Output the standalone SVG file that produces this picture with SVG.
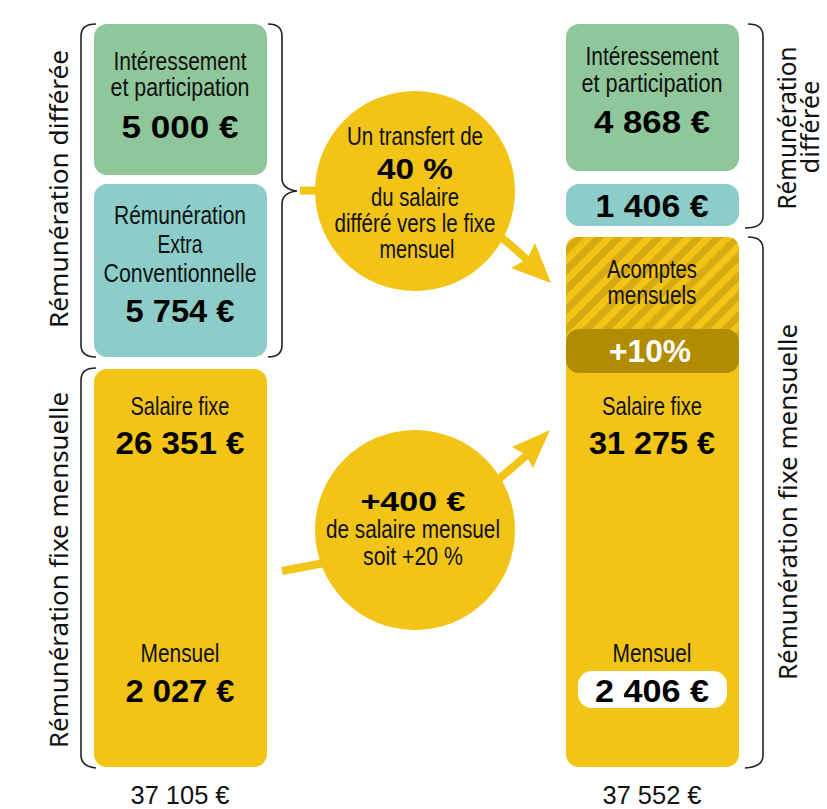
<svg xmlns="http://www.w3.org/2000/svg" width="827" height="809" viewBox="0 0 827 809">
  <defs>
    <style>
      .reg { font-family: "Liberation Sans", Arial, sans-serif; font-size: 25px; fill: #111; text-anchor: middle; }
      .bold { font-family: "Liberation Sans", Arial, sans-serif; font-size: 31px; font-weight: 700; fill: #000; text-anchor: middle; }
      .side { font-family: "Noto Sans", "Liberation Sans", sans-serif; font-size: 26px; fill: #111; text-anchor: middle; }
      .total { font-family: "Liberation Sans", Arial, sans-serif; font-size: 26px; fill: #111; text-anchor: middle; }
      .brace { fill: none; stroke: #222; stroke-width: 1.6; }
      .yellow { fill: #F1C417; }
      .green { fill: #8FC79A; }
      .teal { fill: #8CCDC9; }
      .flow { fill: none; stroke: #F1C417; stroke-width: 8; }
    </style>
    <pattern id="hatch" patternUnits="userSpaceOnUse" width="14" height="14" patternTransform="rotate(45)">
      <rect width="14" height="14" fill="#F1C417"/>
      <rect width="7" height="14" fill="#D6AA10"/>
    </pattern>
  </defs>

  <!-- brackets grouping the amounts -->
  <g id="brackets">
    <path class="brace" d="M96,24 C86,24 81,28 81,36 L81,345 C81,353 86,357 96,357"/>
    <path class="brace" d="M96,368 C86,368 81,372 81,380 L81,755 C81,763 86,767 96,768"/>
    <path class="brace" d="M268,24 C278,24 282,28 282,36 L282,178 C282,186 288,190 297,191 C288,192 282,196 282,204 L282,345 C282,353 278,357 268,357"/>
    <path class="brace" d="M748,24 C758,24 763,28 763,36 L763,216 C763,224 758,228 745,228"/>
    <path class="brace" d="M748,237 C758,237 763,241 763,249 L763,755 C763,763 758,767 745,768"/>
  </g>

  <!-- side labels -->
  <g id="side-labels">
    <text class="side" transform="translate(68,189) rotate(-90)" textLength="278" lengthAdjust="spacingAndGlyphs">Rémunération différée</text>
    <text class="side" transform="translate(68,570) rotate(-90)" textLength="356" lengthAdjust="spacingAndGlyphs">Rémunération fixe mensuelle</text>
    <text class="side" transform="translate(796,128) rotate(-90)" textLength="163" lengthAdjust="spacingAndGlyphs">Rémunération</text>
    <text class="side" transform="translate(819,127) rotate(-90)" textLength="93" lengthAdjust="spacingAndGlyphs">différée</text>
    <text class="side" transform="translate(797,502) rotate(-90)" textLength="356" lengthAdjust="spacingAndGlyphs">Rémunération fixe mensuelle</text>
  </g>

  <!-- connectors -->
  <g id="connectors">
    <path class="flow" d="M300,190.5 L330,190.5"/>
    <path class="flow" d="M470,215 Q505,238 528,261"/>
    <polygon class="yellow" points="551,283 511,268 527,259 535,243"/>
    <path class="flow" d="M282,571 L335,561"/>
    <path class="flow" d="M480,495 L527,455"/>
    <polygon class="yellow" points="550,430 533,468 526,455 512,447"/>
  </g>

  <!-- left column -->
  <g id="left-interessement">
    <rect class="green" x="94" y="24" width="173" height="151" rx="13"/>
    <text class="reg" x="180" y="70" textLength="133" lengthAdjust="spacingAndGlyphs">Intéressement</text>
    <text class="reg" x="180" y="96" textLength="139" lengthAdjust="spacingAndGlyphs">et participation</text>
    <text class="bold" x="180" y="138" textLength="117" lengthAdjust="spacingAndGlyphs">5 000 €</text>
  </g>
  <g id="left-extra">
    <rect class="teal" x="94" y="184" width="173" height="173" rx="13"/>
    <text class="reg" x="180" y="224" textLength="132" lengthAdjust="spacingAndGlyphs">Rémunération</text>
    <text class="reg" x="180" y="253" textLength="45" lengthAdjust="spacingAndGlyphs">Extra</text>
    <text class="reg" x="180" y="282" textLength="153" lengthAdjust="spacingAndGlyphs">Conventionnelle</text>
    <text class="bold" x="180" y="322" textLength="109" lengthAdjust="spacingAndGlyphs">5 754 €</text>
  </g>
  <g id="left-fixe">
    <rect class="yellow" x="94" y="369" width="173" height="398" rx="13"/>
    <text class="reg" x="180" y="415" textLength="99" lengthAdjust="spacingAndGlyphs">Salaire fixe</text>
    <text class="bold" x="180" y="454" textLength="129" lengthAdjust="spacingAndGlyphs">26 351 €</text>
    <text class="reg" x="180" y="662" textLength="79" lengthAdjust="spacingAndGlyphs">Mensuel</text>
    <text class="bold" x="180" y="702" textLength="109" lengthAdjust="spacingAndGlyphs">2 027 €</text>
  </g>
  <g id="left-total">
    <text class="total" x="180" y="804" textLength="99" lengthAdjust="spacingAndGlyphs">37 105 €</text>
  </g>

  <!-- transfer bubbles -->
  <g id="bubble-transfert">
    <circle class="yellow" cx="415" cy="191" r="100"/>
    <text class="reg" x="415" y="145" textLength="136" lengthAdjust="spacingAndGlyphs">Un transfert de</text>
    <text class="bold" x="415" y="179" style="font-size:29px" textLength="76" lengthAdjust="spacingAndGlyphs">40 %</text>
    <text class="reg" x="415" y="206" textLength="88" lengthAdjust="spacingAndGlyphs">du salaire</text>
    <text class="reg" x="415" y="232" textLength="161" lengthAdjust="spacingAndGlyphs">différé vers le fixe</text>
    <text class="reg" x="417" y="258" textLength="75" lengthAdjust="spacingAndGlyphs">mensuel</text>
  </g>
  <g id="bubble-hausse">
    <circle class="yellow" cx="415" cy="530" r="100"/>
    <text class="bold" x="413" y="511" style="font-size:28px" textLength="105" lengthAdjust="spacingAndGlyphs">+400 €</text>
    <text class="reg" x="413" y="538" textLength="174" lengthAdjust="spacingAndGlyphs">de salaire mensuel</text>
    <text class="reg" x="413" y="565" textLength="100" lengthAdjust="spacingAndGlyphs">soit +20 %</text>
  </g>

  <!-- right column -->
  <g id="right-interessement">
    <rect class="green" x="566" y="24" width="173" height="147" rx="13"/>
    <text class="reg" x="652" y="65" textLength="133" lengthAdjust="spacingAndGlyphs">Intéressement</text>
    <text class="reg" x="652" y="92" textLength="141" lengthAdjust="spacingAndGlyphs">et participation</text>
    <text class="bold" x="652" y="133" textLength="116" lengthAdjust="spacingAndGlyphs">4 868 €</text>
  </g>
  <g id="right-extra">
    <rect class="teal" x="566" y="184" width="173" height="42" rx="13"/>
    <text class="bold" x="652" y="217" textLength="113" lengthAdjust="spacingAndGlyphs">1 406 €</text>
  </g>
  <g id="right-fixe">
    <rect class="yellow" x="566" y="237" width="173" height="530" rx="13"/>
    <path d="M566,355 L566,250 Q566,237 579,237 L726,237 Q739,237 739,250 L739,355 Z" fill="url(#hatch)"/>
    <text class="reg" x="652" y="278" textLength="90" lengthAdjust="spacingAndGlyphs">Acomptes</text>
    <text class="reg" x="652" y="304" textLength="89" lengthAdjust="spacingAndGlyphs">mensuels</text>
    <rect x="566" y="329" width="173" height="44" rx="13" fill="#B28C00"/>
    <text class="bold" x="650" y="362" style="fill:#fff" textLength="82" lengthAdjust="spacingAndGlyphs">+10%</text>
    <text class="reg" x="652" y="415" textLength="100" lengthAdjust="spacingAndGlyphs">Salaire fixe</text>
    <text class="bold" x="652" y="454" textLength="126" lengthAdjust="spacingAndGlyphs">31 275 €</text>
    <text class="reg" x="652" y="662" textLength="79" lengthAdjust="spacingAndGlyphs">Mensuel</text>
    <rect x="578" y="671" width="149" height="37" rx="14" fill="#fff"/>
    <text class="bold" x="652" y="702" textLength="114" lengthAdjust="spacingAndGlyphs">2 406 €</text>
  </g>
  <g id="right-total">
    <text class="total" x="652" y="804" textLength="99" lengthAdjust="spacingAndGlyphs">37 552 €</text>
  </g>
</svg>
